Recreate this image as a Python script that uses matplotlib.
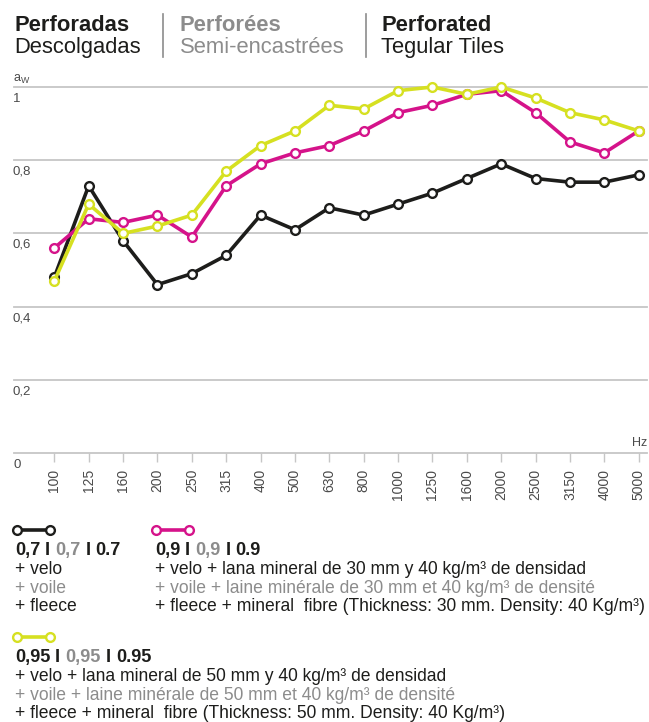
import matplotlib
matplotlib.use("Agg")
import matplotlib.pyplot as plt
import matplotlib.transforms as mtransforms
from matplotlib.lines import Line2D

# ---------------------------------------------------------------------------
# Data (absorption coefficient per third-octave band)
# ---------------------------------------------------------------------------
freqs = ["100", "125", "160", "200", "250", "315", "400", "500", "630", "800",
         "1000", "1250", "1600", "2000", "2500", "3150", "4000", "5000"]

aw_velo = [0.48, 0.73, 0.58, 0.46, 0.49, 0.54, 0.65, 0.61, 0.67, 0.65,
           0.68, 0.71, 0.75, 0.79, 0.75, 0.74, 0.74, 0.76]
aw_30mm = [0.56, 0.64, 0.63, 0.65, 0.59, 0.73, 0.79, 0.82, 0.84, 0.88,
           0.93, 0.95, 0.98, 0.99, 0.93, 0.85, 0.82, 0.88]
aw_50mm = [0.47, 0.68, 0.60, 0.62, 0.65, 0.77, 0.84, 0.88, 0.95, 0.94,
           0.99, 1.00, 0.98, 1.00, 0.97, 0.93, 0.91, 0.88]

y_ticks = [0.2, 0.4, 0.6, 0.8, 1.0]
y_tick_labels = ["0,2", "0,4", "0,6", "0,8", "1"]

BLACK = "#1d1d1b"
MAGENTA = "#d5138a"
YELLOW = "#d6e021"
GREY = "#8c8c8c"
GRID = "#c6c6c6"
LABEL = "#4a4a4a"

plt.rcParams["font.family"] = ["Liberation Sans", "DejaVu Sans"]

W, H = 649, 722
fig = plt.figure(figsize=(W / 100, H / 100), dpi=100)


def fx(x):
    return x / W


def fy(y):
    return 1 - y / H


# ---------------------------------------------------------------------------
# Axes
# ---------------------------------------------------------------------------
ax_l, ax_r, ax_b, ax_t = 14, 647, 453, 87
ax = fig.add_axes([fx(ax_l), fy(ax_b), fx(ax_r - ax_l), (ax_b - ax_t) / H])
ax.set_ylim(0, 1.0)
step = (638.7 - 54.3) / 17
ax.set_xlim((ax_l - 54.3) / step, 17 + (ax_r - 638.7) / step)

for s in ax.spines.values():
    s.set_visible(False)
ax.axhline(0, color=GRID, lw=1.3, zorder=1, clip_on=False)
for v in y_ticks:
    ax.axhline(v, color=GRID, lw=1.3, zorder=1, clip_on=False)

x = list(range(len(freqs)))
for vals, col, z in [(aw_velo, BLACK, 3), (aw_30mm, MAGENTA, 4), (aw_50mm, YELLOW, 5)]:
    ax.plot(x, vals, color=col, lw=2.6, marker="o", ms=6.3, mfc="white",
            mec=col, mew=1.7, zorder=z, clip_on=False)

ax.set_xticks(x)
ax.set_xticklabels(freqs, rotation=90, fontsize=10, color=LABEL)
ax.tick_params(axis="x", length=6.5, width=1, color=GRID, pad=5)
ax.set_yticks([])

trans = mtransforms.blended_transform_factory(ax.transAxes, ax.transData)
offset = mtransforms.ScaledTranslation(0, -4 / 72, fig.dpi_scale_trans)
for v, lab in zip(y_ticks, y_tick_labels):
    ax.text(-0.002, v, lab, transform=trans + offset, ha="left", va="top",
            fontsize=9.5, color=LABEL)
ax.text(0.0, 0, "0", transform=trans + offset, ha="left", va="top",
        fontsize=9.5, color=LABEL)
ax.text(1.0, 0.012, "Hz", transform=trans, ha="right", va="bottom",
        fontsize=9, color=LABEL)
fig.text(fx(13), fy(82), r"a$_{\mathregular{W}}$", fontsize=9, color=LABEL,
         ha="left", va="baseline")

# ---------------------------------------------------------------------------
# Header
# ---------------------------------------------------------------------------
HS = 15.8
fig.text(fx(14), fy(31), "Perforadas", fontsize=HS, fontweight="bold", color=BLACK)
fig.text(fx(14), fy(53), "Descolgadas", fontsize=HS, color=BLACK)
fig.text(fx(180), fy(31), "Perforées", fontsize=HS, fontweight="bold", color=GREY)
fig.text(fx(180), fy(53), "Semi-encastrées", fontsize=HS, color=GREY)
fig.text(fx(381), fy(31), "Perforated", fontsize=HS, fontweight="bold", color=BLACK)
fig.text(fx(381), fy(53), "Tegular Tiles", fontsize=HS, color=BLACK)
for xs in (163, 366):
    fig.add_artist(Line2D([fx(xs), fx(xs)], [fy(14), fy(57)], color=GREY, lw=1.2))

# ---------------------------------------------------------------------------
# Legend blocks
# ---------------------------------------------------------------------------
VS = 13.1
DS = 12.65


def icon(x0, y, col):
    fig.add_artist(Line2D([fx(x0), fx(x0 + 33)], [fy(y), fy(y)], color=col, lw=2.6,
                          marker="o", ms=6.3, mfc="white", mec=col, mew=1.7))


def value_line(x0, y, val):
    parts = [(val.replace(".", ","), BLACK), (" I ", BLACK), (val.replace(".", ","), GREY),
             (" I ", BLACK), (val, BLACK)]
    xcur = fx(x0)
    renderer = fig.canvas.get_renderer()
    for s, c in parts:
        tt = fig.text(xcur, fy(y), s, fontsize=VS, fontweight="bold", color=c)
        bb = tt.get_window_extent(renderer=renderer)
        xcur += bb.width / W


def desc_lines(x0, y, lines):
    cols = [BLACK, GREY, BLACK]
    for i, (s, c) in enumerate(zip(lines, cols)):
        fig.text(fx(x0), fy(y + i * 18.6), s, fontsize=DS, color=c)


icon(17, 530, BLACK)
value_line(15, 555, "0.7")
desc_lines(15, 574, ["+ velo", "+ voile", "+ fleece"])

icon(156, 530, MAGENTA)
value_line(155, 555, "0.9")
desc_lines(155, 574, [
    "+ velo + lana mineral de 30 mm y 40 kg/m³ de densidad",
    "+ voile + laine minérale de 30 mm et 40 kg/m³ de densité",
    "+ fleece + mineral  fibre (Thickness: 30 mm. Density: 40 Kg/m³)",
])

icon(17, 637, YELLOW)
value_line(15, 662, "0.95")
desc_lines(15, 681, [
    "+ velo + lana mineral de 50 mm y 40 kg/m³ de densidad",
    "+ voile + laine minérale de 50 mm et 40 kg/m³ de densité",
    "+ fleece + mineral  fibre (Thickness: 50 mm. Density: 40 Kg/m³)",
])

fig.savefig("out.png", dpi=100)
